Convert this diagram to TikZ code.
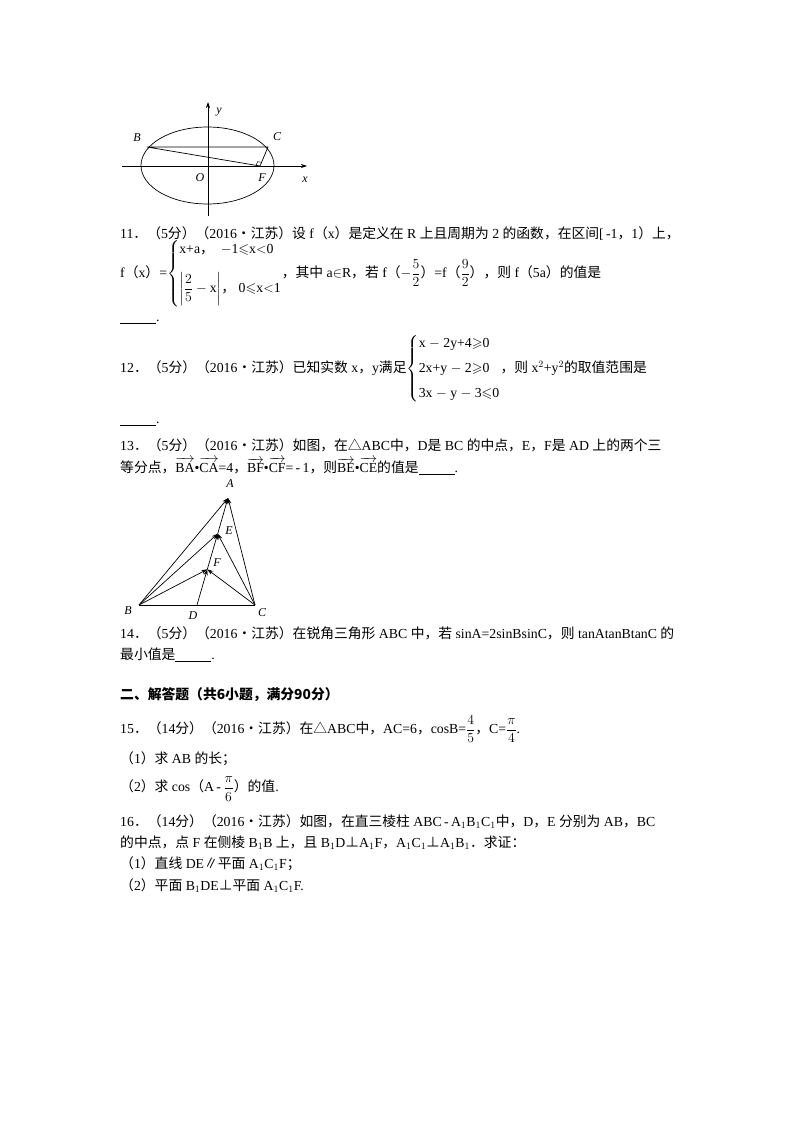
\RequirePackage{fix-cm}
\documentclass[tikz,border=0pt]{standalone}
\usepackage{amsmath,amssymb}
\usepackage{fontspec}
\setmainfont{Liberation Serif}
\newfontfamily\zh{Noto Sans CJK SC}
\usetikzlibrary{arrows.meta,calc}
\newcommand{\Z}[1]{{\zh #1}}
\newcommand{\blank}{\rule[-2pt]{36pt}{0.5pt}}
\begin{document}
\begin{tikzpicture}[x=1pt,y=-1pt,
  txt/.style={anchor=west,inner sep=0pt,font=\fontsize{13.8}{16}\selectfont},
  lab/.style={inner sep=0pt,font=\fontsize{12}{14}\selectfont\itshape},
  ln/.style={line width=0.7pt},
  ar/.style={ln,-{Stealth[length=6pt,width=4pt]}}]
\useasboundingbox (0,0) rectangle (800,1132);
% ellipse figure
\coordinate (xs) at (122,166); \coordinate (xe) at (307,166);
\coordinate (ys) at (208,216); \coordinate (ye) at (208,102);
\draw[ar] (xs) -- (xe);
\draw[ar] (ys) -- (ye);
\draw[ln] (207.5,165.5) ellipse [x radius=66.5, y radius=38.5];
\coordinate (B) at (147,147); \coordinate (C) at (268,147); \coordinate (F) at (260,166);
\draw[ln] (B) -- (C) -- (F) -- cycle;
\coordinate (f1) at ($(F)!4pt!(B)$); \coordinate (f2) at ($(F)!4pt!(C)$);
\draw[line width=0.5pt] (f1) -- ($(f1)+(f2)-(F)$) -- (f2);
\node[lab] (ly) at (219,112) {y};
\node[lab] (lB) at (137,138) {B};
\node[lab] (lC) at (277,137) {C};
\node[lab] (lO) at (200,178) {O};
\node[lab] (lF) at (262,178) {F};
\node[lab] (lx) at (305,180) {x};
% problem 11
\node[txt] (p11) at (120,234) {11\Z{．（}5\Z{分）（}2016\Z{•江苏）设} f\Z{（}x\Z{）是定义在} R \Z{上且周期为} 2 \Z{的函数，在区间}[\,-1\Z{，}1\Z{）上，}};
\node[txt] (p11b) at (120,274) {f\Z{（}x\Z{）}=$\left\{\begin{array}{@{}l@{}}\text{x+a\Z{，}\ \ $-$1$\leqslant$x$<$0}\\[14pt] \text{$\left|\dfrac{2}{5}-\text{x}\right|$\Z{，}\ 0$\leqslant$x$<$1}\end{array}\right.$\Z{，其中} a$\in$R\Z{，若} f\Z{（}$-\dfrac{5}{2}$\Z{）}=f\Z{（}$\dfrac{9}{2}$\Z{），则} f\Z{（}5a\Z{）的值是}};
\node[txt] (p11c) at (120,322) {\blank.};
% problem 12
\node[txt] (p12) at (120,369) {12\Z{．（}5\Z{分）（}2016\Z{•江苏）已知实数} x\Z{，}y\Z{满足}$\left\{\begin{array}{@{}l@{}}\text{x $-$ 2y+4$\geqslant$0}\\[9pt]\text{2x+y $-$ 2$\geqslant$0}\\[9pt]\text{3x $-$ y $-$ 3$\leqslant$0}\end{array}\right.$\Z{，则} x$^2$+y$^2$\Z{的取值范围是}};
\node[txt] (p12c) at (120,424) {\blank.};
% problem 13
\node[txt] (p13) at (120,445) {13\Z{．（}5\Z{分）（}2016\Z{•江苏）如图，在△}ABC\Z{中，}D\Z{是} BC \Z{的中点，}E\Z{，}F\Z{是} AD \Z{上的两个三}};
\node[txt] (p13b) at (120,466) {\Z{等分点，}$\overrightarrow{\text{BA}}$•$\overrightarrow{\text{CA}}$=4\Z{，}$\overrightarrow{\text{BF}}$•$\overrightarrow{\text{CF}}$=\,-\,1\Z{，则}$\overrightarrow{\text{BE}}$•$\overrightarrow{\text{CE}}$\Z{的值是}\blank.};
% triangle
\coordinate (tA) at (228,498); \coordinate (tB) at (139,605); \coordinate (tC) at (255,605);
\coordinate (tD) at (197,605); \coordinate (tE) at (217.7,533.7); \coordinate (tF) at (207.3,569.3);
\draw[ln] (tB) -- (tC);
\draw[ar] (tB) -- (tA); \draw[ar] (tC) -- (tA);
\draw[ar] (tB) -- (tE); \draw[ar] (tC) -- (tE);
\draw[ar] (tB) -- (tF); \draw[ar] (tC) -- (tF);
\draw[ar] (tD) -- (tF); \draw[ar] (tF) -- (tE); \draw[ar] (tE) -- (tA);
\node[lab] (tlA) at (230,484) {A};
\node[lab] (tlE) at (229,531) {E};
\node[lab] (tlF) at (217,563) {F};
\node[lab] (tlB) at (128,611) {B};
\node[lab] (tlD) at (193,616) {D};
\node[lab] (tlC) at (262,613) {C};
% problem 14
\node[txt] (p14) at (120,633) {14\Z{．（}5\Z{分）（}2016\Z{•江苏）在锐角三角形} ABC \Z{中，若} sinA=2sinBsinC\Z{，则} tanAtanBtanC \Z{的}};
\node[txt] (p14b) at (120,655) {\Z{最小值是}\blank.};
% section
\node[txt] (sec) at (120,695) {\zh\bfseries 二、解答题（共6小题，满分90分）};
% problem 15
\node[txt] (p15) at (120,729) {15\Z{．（}14\Z{分）（}2016\Z{•江苏）在△}ABC\Z{中，}AC=6\Z{，}cosB=$\dfrac{4}{5}$\Z{，}C=$\dfrac{\pi}{4}$.};
\node[txt] (p15a) at (120,759) {\Z{（}1\Z{）求} AB \Z{的长；}};
\node[txt] (p15b) at (120,789) {\Z{（}2\Z{）求} cos\Z{（}A\,-\,$\dfrac{\pi}{6}$\Z{）的值}.};
% problem 16
\node[txt] (p16) at (120,822) {16\Z{．（}14\Z{分）（}2016\Z{•江苏）如图，在直三棱柱} ABC\,-\,A$_1$B$_1$C$_1$\Z{中，}D\Z{，}E \Z{分别为} AB\Z{，}BC};
\node[txt] (p16b) at (120,843) {\Z{的中点，点} F \Z{在侧棱} B$_1$B \Z{上，且} B$_1$D\Z{⊥}A$_1$F\Z{，}A$_1$C$_1$\Z{⊥}A$_1$B$_1$\Z{．求证：}};
\node[txt] (p16c) at (120,864) {\Z{（}1\Z{）直线} DE\Z{∥平面} A$_1$C$_1$F\Z{；}};
\node[txt] (p16d) at (120,886) {\Z{（}2\Z{）平面} B$_1$DE\Z{⊥平面} A$_1$C$_1$F.};
\end{tikzpicture}
\end{document}
